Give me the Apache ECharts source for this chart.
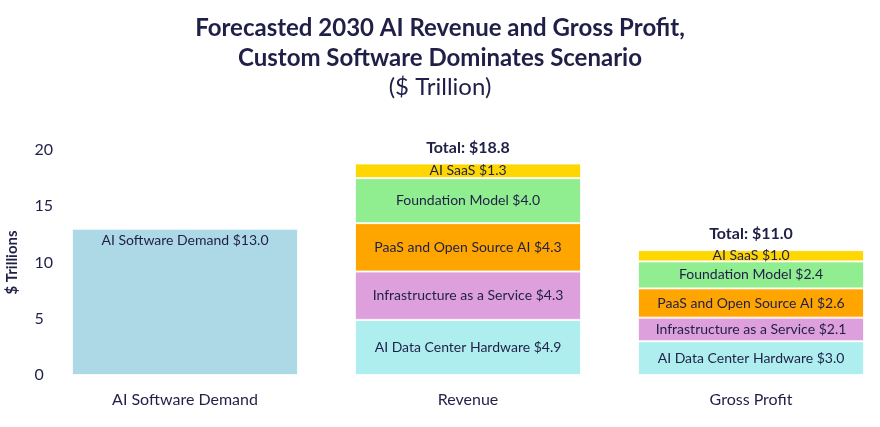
<!DOCTYPE html>
<html>
<head>
<meta charset="utf-8">
<script src="https://cdn.jsdelivr.net/npm/echarts@6/dist/echarts.min.js"></script>
<style>html,body{margin:0;padding:0;background:#fff}#c{width:880px;height:427px}</style>
</head>
<body>
<div id="c"></div>
<script>
const categories = ['AI Software Demand', 'Revenue', 'Gross Profit'];
const demand = [13.0, '-', '-'];
const hardware = ['-', 4.9, 3.0];
const iaas = ['-', 4.3, 2.1];
const paas = ['-', 4.3, 2.6];
const foundation = ['-', 4.0, 2.4];
const saas = ['-', 1.3, 1.0];
const totals = ['-', 18.8, 11.0];
const yTicks = [0, 5, 10, 15, 20];

const TXT = '#1f1f47';
const FONT = 'Lato';

function seg(name, label, data, color, pos) {
  return {
    name: name, type: 'bar', stack: 'a', data: data, barWidth: 226,
    itemStyle: { color: color, borderColor: 'rgba(255,255,255,0.8)', borderWidth: 1 },
    label: {
      show: true, position: pos || 'inside', color: TXT, fontFamily: FONT, fontSize: 14,
      formatter: p => (p.value === '-' || p.value == null) ? '' : label + ' $' + Number(p.value).toFixed(1)
    }
  };
}

const chart = echarts.init(document.getElementById('c'));
chart.setOption({
  animation: false,
  textStyle: { fontFamily: FONT },
  title: [
    { text: 'Forecasted 2030 AI Revenue and Gross Profit,\nCustom Software Dominates Scenario', left: 'center', top: 8,
      textStyle: { fontFamily: FONT, fontWeight: 'bold', fontSize: 24, color: TXT, lineHeight: 30 } },
    { text: '($ Trillion)', left: 'center', top: 70,
      textStyle: { fontFamily: FONT, fontWeight: 'normal', fontSize: 24, color: TXT } }
  ],
  grid: { left: 43.5, width: 849, top: 150, bottom: 52, outerBoundsMode: 'none', containLabel: false },
  xAxis: {
    type: 'category', data: categories,
    axisLine: { show: false }, axisTick: { show: false },
    axisLabel: { color: TXT, fontSize: 16, fontFamily: FONT, margin: 17 }
  },
  yAxis: {
    type: 'value', min: 0, max: 20, interval: 5,
    name: '$ Trillions', nameLocation: 'middle', nameGap: 24, nameRotate: 90,
    nameTextStyle: { color: TXT, fontSize: 15, fontWeight: 'bold', fontFamily: FONT },
    axisLine: { show: false }, axisTick: { show: false }, splitLine: { show: false },
    axisLabel: { color: TXT, fontSize: 16, fontFamily: FONT, align: 'left', margin: 9,
      formatter: v => yTicks.includes(v) ? String(v) : '' }
  },
  series: [
    seg('AI Software Demand', 'AI Software Demand', demand, '#ADD8E6', 'insideTop'),
    seg('AI Data Center Hardware', 'AI Data Center Hardware', hardware, '#AFEEEE'),
    seg('Infrastructure as a Service', 'Infrastructure as a Service', iaas, '#DDA0DD'),
    seg('PaaS and Open Source AI', 'PaaS and Open Source AI', paas, '#FFA500'),
    seg('Foundation Model', 'Foundation Model', foundation, '#90EE90'),
    seg('AI SaaS', 'AI SaaS', saas, '#FFD700'),
    {
      name: 'Total', type: 'bar', stack: 'a', barWidth: 226,
      data: totals.map(t => t === '-' ? '-' : 0),
      itemStyle: { color: 'transparent' },
      label: { show: true, position: 'top', distance: 8, color: TXT, fontFamily: FONT, fontSize: 16, fontWeight: 'bold',
        formatter: p => totals[p.dataIndex] === '-' ? '' : 'Total: $' + Number(totals[p.dataIndex]).toFixed(1) }
    }
  ]
});
</script>
</body>
</html>
